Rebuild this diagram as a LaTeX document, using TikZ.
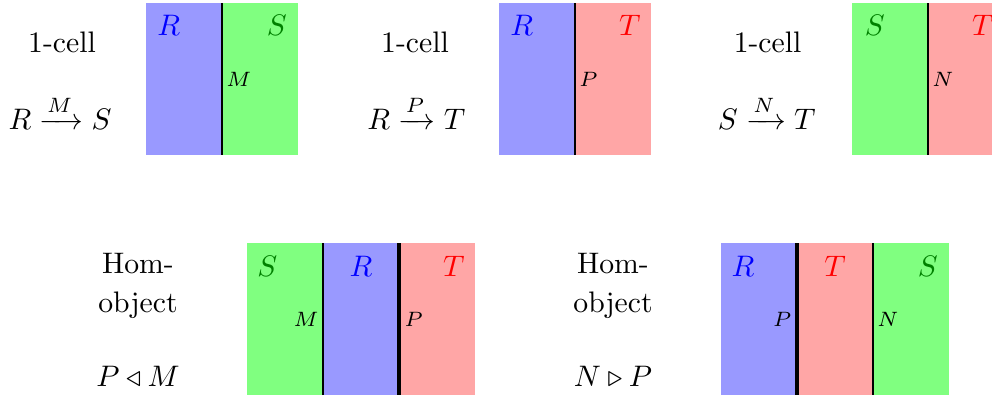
\documentclass[tikz,border=0pt]{standalone}
\usepackage{amsmath,amssymb}
\usepackage{tikz}
\usepackage{xcolor}
\usetikzlibrary{arrows.meta,positioning}

\begin{document}
\begin{tikzpicture}[x=1cm,y=1cm,
  strip/.style={minimum width=0.9cm,minimum height=1.8cm,inner sep=0pt,outer sep=0pt},
  celltext/.style={anchor=base,inner sep=0pt},
  regionlabel/.style={inner sep=0pt},
  seam/.style={line width=0.4pt,black},
  heavyseam/.style={line width=1.1pt,black},
  seamlabel/.style={font=\scriptsize,inner sep=1.3pt}
]
  \clip (0,0) rectangle (11.747,-4.666);

  % First 1-cell: R to S
  \node[celltext] (cellA) at (0.734,-0.616) {1-cell};
  \node[celltext] (arrA) at (0.711,-1.528) {$R \xrightarrow{M} S$};
  \node[strip,fill=blue!40] (rA) at (2.179,-0.936) {};
  \node[strip,fill=green!50] (sA) at (3.079,-0.936) {};
  \draw[seam] (rA.north east) -- (rA.south east);
  \node[regionlabel,text=blue] at ([xshift=0.27cm,yshift=-0.26cm]rA.north west) {$R$};
  \node[regionlabel,text=green!50!black] at ([xshift=-0.25cm,yshift=-0.26cm]sA.north east) {$S$};
  \node[seamlabel,anchor=west] at (rA.east) {$M$};

  % Second 1-cell: R to T
  \node[celltext] (cellB) at (4.914,-0.616) {1-cell};
  \node[celltext] (arrB) at (4.93,-1.528) {$R \xrightarrow{P} T$};
  \node[strip,fill=blue!40] (rB) at (6.359,-0.936) {};
  \node[strip,fill=red!35] (tB) at (7.259,-0.936) {};
  \draw[seam] (rB.north east) -- (rB.south east);
  \node[regionlabel,text=blue] at ([xshift=0.27cm,yshift=-0.26cm]rB.north west) {$R$};
  \node[regionlabel,text=red] at ([xshift=-0.25cm,yshift=-0.26cm]tB.north east) {$T$};
  \node[seamlabel,anchor=west] at (rB.east) {$P$};

  % Third 1-cell: S to T
  \node[celltext] (cellC) at (9.089,-0.616) {1-cell};
  \node[celltext] (arrC) at (9.08,-1.528) {$S \xrightarrow{N} T$};
  \node[strip,fill=green!50] (sC) at (10.539,-0.936) {};
  \node[strip,fill=red!35] (tC) at (11.439,-0.936) {};
  \draw[seam] (sC.north east) -- (sC.south east);
  \node[regionlabel,text=green!50!black] at ([xshift=0.27cm,yshift=-0.26cm]sC.north west) {$S$};
  \node[regionlabel,text=red] at ([xshift=-0.25cm,yshift=-0.26cm]tC.north east) {$T$};
  \node[seamlabel,anchor=west] at (sC.east) {$N$};

  % Hom-object P <| M
  \node[celltext] (homA) at (1.634,-3.233) {Hom-};
  \node[celltext] (objA) at (1.634,-3.695) {object};
  \node[celltext] (triA) at (1.634,-4.579) {$P \triangleleft M$};
  \node[strip,fill=green!50] (sD) at (3.375,-3.778) {};
  \node[strip,fill=blue!40] (rD) at (4.275,-3.778) {};
  \node[strip,fill=red!35] (tD) at (5.175,-3.778) {};
  \draw[seam] (sD.north east) -- (sD.south east);
  \draw[heavyseam] (rD.north east) -- (rD.south east);
  \node[regionlabel,text=green!50!black] at ([xshift=0.24cm,yshift=-0.28cm]sD.north west) {$S$};
  \node[regionlabel,text=blue] at ([yshift=-0.28cm]rD.north) {$R$};
  \node[regionlabel,text=red] at ([xshift=-0.25cm,yshift=-0.28cm]tD.north east) {$T$};
  \node[seamlabel,anchor=east] at (sD.east) {$M$};
  \node[seamlabel,anchor=west] at ([xshift=0.4pt]rD.east) {$P$};

  % Hom-object N |> P
  \node[celltext] (homB) at (7.259,-3.233) {Hom-};
  \node[celltext] (objB) at (7.259,-3.695) {object};
  \node[celltext] (triB) at (7.259,-4.579) {$N \triangleright P$};
  \node[strip,fill=blue!40] (rE) at (8.988,-3.778) {};
  \node[strip,fill=red!35] (tE) at (9.888,-3.778) {};
  \node[strip,fill=green!50] (sE) at (10.788,-3.778) {};
  \draw[heavyseam] (rE.north east) -- (rE.south east);
  \draw[seam] (tE.north east) -- (tE.south east);
  \node[regionlabel,text=blue] at ([xshift=0.26cm,yshift=-0.28cm]rE.north west) {$R$};
  \node[regionlabel,text=red] at ([yshift=-0.28cm]tE.north) {$T$};
  \node[regionlabel,text=green!50!black] at ([xshift=-0.25cm,yshift=-0.28cm]sE.north east) {$S$};
  \node[seamlabel,anchor=east] at ([xshift=-0.4pt]rE.east) {$P$};
  \node[seamlabel,anchor=west] at (tE.east) {$N$};
\end{tikzpicture}
\end{document}
